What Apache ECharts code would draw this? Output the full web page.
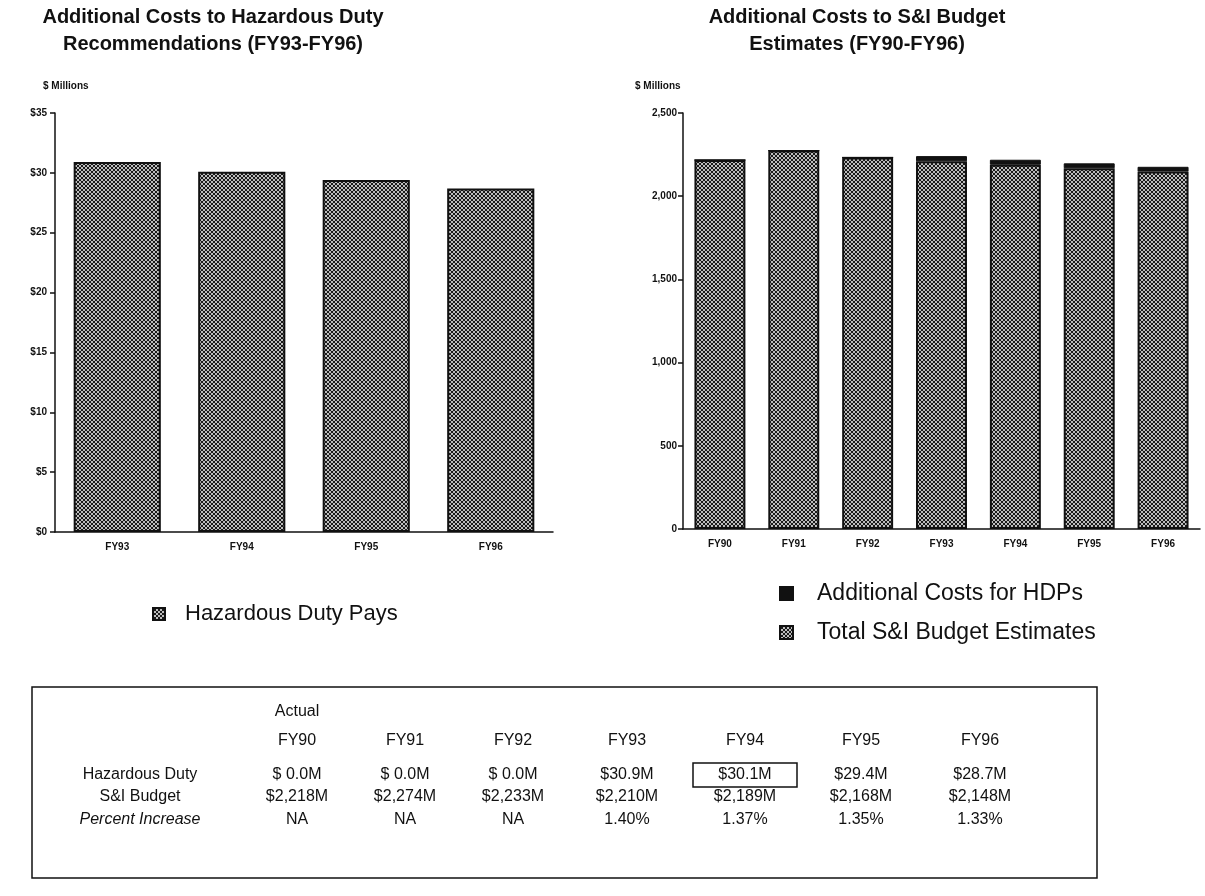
<!DOCTYPE html>
<html>
<head>
<meta charset="utf-8">
<script src="https://cdn.jsdelivr.net/npm/echarts@6/dist/echarts.min.js"></script>
<style>
  html, body { margin: 0; padding: 0; background: #ffffff; }
  #chart { width: 1205px; height: 896px; }
</style>
</head>
<body>
<div id="chart"></div>
<script>
// ---- data ----
const hdpYears = ['FY93', 'FY94', 'FY95', 'FY96'];
const hdpCosts = [30.9, 30.1, 29.4, 28.7];

const budgetYears = ['FY90', 'FY91', 'FY92', 'FY93', 'FY94', 'FY95', 'FY96'];
const budgetTotals = [2218, 2274, 2233, 2210, 2189, 2168, 2148];
const budgetAdditions = [0, 0, 0, 30.9, 30.1, 29.4, 28.7];
const percentIncrease = [null, null, null, 1.40, 1.37, 1.35, 1.33];

const tableRowLabels = ['Hazardous Duty', 'S&I Budget', 'Percent Increase'];
const highlightedYear = 'FY94';

const FONT = '"Liberation Sans", Arial, Helvetica, sans-serif';

// crosshatch fill used for the budget bars and legend swatches
function makeHatch() {
  const c = document.createElement('canvas');
  c.width = 4; c.height = 4;
  const g = c.getContext('2d');
  g.fillStyle = '#bdbdbd';
  g.fillRect(0, 0, 4, 4);
  g.fillStyle = '#1a1a1a';
  for (let i = 0; i < 4; i++) {
    g.fillRect(i, i, 1, 1);
    g.fillRect(3 - i, i, 1, 1);
  }
  return c;
}
const hatch = { image: makeHatch(), repeat: 'repeat' };

const fmtMoneyM = v => (v < 10 ? '$ ' : '$') + v.toFixed(1) + 'M';
const fmtBudget = v => '$' + v.toLocaleString('en-US') + 'M';
const fmtPct = v => (v == null ? 'NA' : v.toFixed(2) + '%');

// ---- summary table drawn as graphic elements ----
const table = { left: 32, top: 687, width: 1065, height: 191 };
const labelX = 140;
const colX = [297, 405, 513, 627, 745, 861, 980];
const rowY = { actual: 712, header: 741, rows: [775, 797, 820] };

const tableGraphics = [];
tableGraphics.push({
  type: 'rect',
  shape: { x: table.left, y: table.top, width: table.width, height: table.height },
  style: { fill: 'none', stroke: '#111', lineWidth: 1.5 }
});
function addText(str, x, y, extra) {
  tableGraphics.push({
    type: 'text',
    style: Object.assign({
      text: str, x: x, y: y,
      fill: '#111',
      font: '16px ' + FONT,
      align: 'center', verticalAlign: 'middle',
      textAlign: 'center', textVerticalAlign: 'middle'
    }, extra || {})
  });
}
addText('Actual', colX[0], rowY.actual);
budgetYears.forEach((y, i) => addText(y, colX[i], rowY.header));
tableRowLabels.forEach((lab, r) => {
  addText(lab, labelX, rowY.rows[r], r === 2 ? { font: 'italic 16px ' + FONT } : null);
});
budgetYears.forEach((y, i) => {
  addText(fmtMoneyM(budgetAdditions[i]), colX[i], rowY.rows[0]);
  addText(fmtBudget(budgetTotals[i]), colX[i], rowY.rows[1]);
  addText(fmtPct(percentIncrease[i]), colX[i], rowY.rows[2]);
});
const hi = budgetYears.indexOf(highlightedYear);
tableGraphics.push({
  type: 'rect',
  shape: { x: colX[hi] - 52, y: rowY.rows[0] - 12, width: 104, height: 24 },
  style: { fill: 'none', stroke: '#111', lineWidth: 1.5 }
});

// chart titles
function titleText(str, x, y) {
  return {
    type: 'text',
    style: {
      text: str, x: x, y: y, fill: '#111',
      font: 'bold 20px ' + FONT,
      align: 'center', verticalAlign: 'middle',
      textAlign: 'center', textVerticalAlign: 'middle'
    }
  };
}
const titleGraphics = [
  titleText('Additional Costs to Hazardous Duty', 213, 17),
  titleText('Recommendations (FY93-FY96)', 213, 44),
  titleText('Additional Costs to S&I Budget', 857, 17),
  titleText('Estimates (FY90-FY96)', 857, 44)
];

const axisLabelStyle = { color: '#111', fontFamily: FONT, fontWeight: 'bold', fontSize: 10 };
const axisLineStyle = { color: '#111', width: 1.5 };

const option = {
  backgroundColor: '#ffffff',
  animation: false,
  grid: [
    { left: 55, top: 113, width: 498, height: 419 },
    { left: 683, top: 113, width: 517, height: 416 }
  ],
  legend: [
    {
      data: ['Hazardous Duty Pays'],
      left: 152, top: 603, padding: 0,
      icon: 'rect', itemWidth: 12, itemHeight: 12,
      textStyle: { fontFamily: FONT, fontSize: 22, color: '#111', padding: [0, 0, 0, 15] },
      selectedMode: false
    },
    {
      data: ['Additional Costs for HDPs', 'Total S&I Budget Estimates'],
      orient: 'vertical',
      left: 779, top: 582, padding: 0,
      icon: 'rect', itemWidth: 13, itemHeight: 13, itemGap: 16,
      textStyle: { fontFamily: FONT, fontSize: 23, color: '#111', padding: [0, 0, 0, 19] },
      selectedMode: false
    }
  ],
  xAxis: [
    {
      type: 'category', gridIndex: 0, data: hdpYears, z: 5,
      axisLine: { lineStyle: axisLineStyle },
      axisTick: { inside: true, alignWithLabel: true, length: 5, lineStyle: { color: '#111', width: 2 } },
      axisLabel: Object.assign({ margin: 10 }, axisLabelStyle)
    },
    {
      type: 'category', gridIndex: 1, data: budgetYears, z: 5,
      axisLine: { lineStyle: axisLineStyle },
      axisTick: { inside: true, alignWithLabel: true, length: 5, lineStyle: { color: '#111', width: 2 } },
      axisLabel: Object.assign({ margin: 10 }, axisLabelStyle)
    }
  ],
  yAxis: [
    {
      type: 'value', gridIndex: 0, min: 0, max: 35, interval: 5,
      name: '$ Millions', nameLocation: 'end', nameGap: 22,
      nameTextStyle: { align: 'left', padding: [0, 0, 0, -12], color: '#111', fontFamily: FONT, fontWeight: 'bold', fontSize: 10 },
      axisLine: { show: true, lineStyle: axisLineStyle },
      axisTick: { show: true, length: 5, lineStyle: { color: '#111', width: 1.5 } },
      splitLine: { show: false },
      axisLabel: Object.assign({ margin: 8, formatter: v => '$' + v }, axisLabelStyle)
    },
    {
      type: 'value', gridIndex: 1, min: 0, max: 2500, interval: 500,
      name: '$ Millions', nameLocation: 'end', nameGap: 22,
      nameTextStyle: { align: 'left', padding: [0, 0, 0, -48], color: '#111', fontFamily: FONT, fontWeight: 'bold', fontSize: 10 },
      axisLine: { show: true, lineStyle: axisLineStyle },
      axisTick: { show: true, length: 5, lineStyle: { color: '#111', width: 1.5 } },
      splitLine: { show: false },
      axisLabel: Object.assign({ margin: 6, formatter: v => v.toLocaleString('en-US') }, axisLabelStyle)
    }
  ],
  series: [
    {
      name: 'Hazardous Duty Pays', type: 'bar', xAxisIndex: 0, yAxisIndex: 0,
      data: hdpCosts, barCategoryGap: '30%',
      itemStyle: { color: hatch, borderColor: '#111', borderWidth: 2 }
    },
    {
      name: 'Total S&I Budget Estimates', type: 'bar', xAxisIndex: 1, yAxisIndex: 1,
      stack: 'budget', data: budgetTotals, barCategoryGap: '31%',
      itemStyle: { color: hatch, borderColor: '#111', borderWidth: 2 }
    },
    {
      name: 'Additional Costs for HDPs', type: 'bar', xAxisIndex: 1, yAxisIndex: 1,
      stack: 'budget', data: budgetAdditions, barCategoryGap: '31%',
      itemStyle: { color: '#111', borderColor: '#111', borderWidth: 1 }
    }
  ],
  graphic: titleGraphics.concat(tableGraphics)
};

const chart = echarts.init(document.getElementById('chart'));
chart.setOption(option);
</script>
</body>
</html>
